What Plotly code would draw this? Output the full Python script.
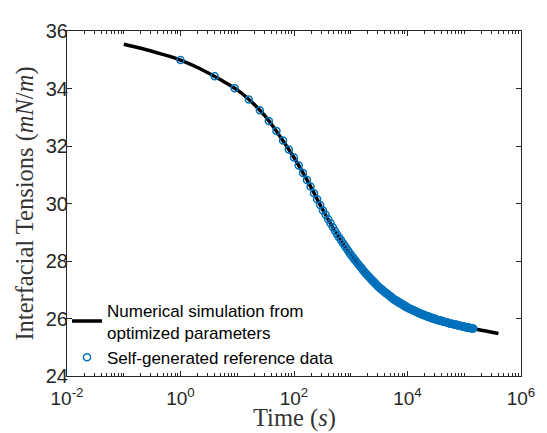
import plotly.graph_objects as go

# Numerical simulation curve (time in s, tension in mN/m)
sim_t = [0.1, 0.2, 0.5, 1, 2, 5, 10, 20, 30, 50, 100, 200, 300, 500, 1000, 2000, 3000,
         5000, 10000, 20000, 50000, 100000, 200000, 400000]
sim_y = [35.54, 35.40, 35.18, 34.99, 34.73, 34.31, 33.95, 33.44, 33.07, 32.49, 31.60,
         30.56, 29.89, 29.12, 28.22, 27.49, 27.12, 26.76, 26.38, 26.11, 25.86, 25.71,
         25.59, 25.48]

# Self-generated reference data
ref_t = [1, 4, 9, 16, 25, 36, 49, 64, 81, 100, 121, 144, 169, 196, 225, 256, 289, 324,
         361, 400, 441, 484, 529, 576, 625, 676, 729, 784, 841, 900, 961, 1024, 1089,
         1156, 1225, 1296, 1369, 1444, 1521, 1600, 1681, 1764, 1849, 1936, 2025, 2116,
         2209, 2304, 2401, 2500, 2704, 2916, 3136, 3364, 3600, 3844, 4096, 4356, 4624,
         4900, 5184, 5476, 5776, 6084, 6400, 6724, 7056, 7396, 7744, 8100, 8464, 8836,
         9216, 10000, 10816, 11664, 12544, 13456, 14400, 15376, 16384, 17424, 18496,
         19600, 20736, 21904, 23104, 24336, 25600, 26896, 28224, 29584, 30976, 32400,
         36100, 40000, 44100, 48400, 52900, 57600, 62500, 67600, 72900, 78400, 84100,
         90000, 96100, 102400, 108900, 115600, 122500, 129600, 136900, 144400]
ref_y = [34.99, 34.43, 34.01, 33.62, 33.24, 32.87, 32.52, 32.19, 31.88, 31.60, 31.32,
         31.06, 30.82, 30.59, 30.36, 30.15, 29.95, 29.76, 29.61, 29.45, 29.31, 29.17,
         29.04, 28.92, 28.82, 28.72, 28.62, 28.53, 28.44, 28.36, 28.27, 28.20, 28.13,
         28.06, 28.00, 27.94, 27.88, 27.82, 27.77, 27.71, 27.66, 27.61, 27.56, 27.52,
         27.48, 27.44, 27.40, 27.36, 27.33, 27.29, 27.22, 27.15, 27.09, 27.04, 26.99,
         26.94, 26.90, 26.86, 26.82, 26.78, 26.74, 26.70, 26.67, 26.64, 26.61, 26.59,
         26.56, 26.54, 26.51, 26.49, 26.47, 26.44, 26.42, 26.38, 26.35, 26.32, 26.29,
         26.26, 26.23, 26.21, 26.18, 26.16, 26.14, 26.12, 26.10, 26.08, 26.07, 26.05,
         26.03, 26.02, 26.00, 25.99, 25.98, 25.96, 25.94, 25.91, 25.89, 25.87, 25.84,
         25.82, 25.81, 25.79, 25.78, 25.76, 25.75, 25.73, 25.72, 25.71, 25.70, 25.69,
         25.68, 25.67, 25.66, 25.65]

# further reference samples in the dense part of the record
ref_t_dense = [2601, 2809, 3025, 3249, 3481, 3721, 3969, 4225, 4489, 4761, 5041, 5329,
               5625, 5929, 6241, 6561, 6889, 7225, 7569, 7921, 8281, 8649, 9025, 9409,
               9604, 9801, 10404, 11236, 12100, 12996, 13924, 14884, 15876, 16900, 17956,
               19044, 20164, 21316, 22500, 23716, 24964, 26244, 27556, 28900, 30276,
               31684, 33856, 35344, 37636, 38416, 42025, 46225, 50625, 55225, 60025,
               65025, 70225, 75625, 81225, 87025, 93025, 99225, 105625, 112225, 119025,
               126025, 133225, 140625]
ref_y_dense = [27.26, 27.19, 27.12, 27.06, 27.01, 26.97, 26.92, 26.88, 26.84, 26.80,
               26.76, 26.72, 26.68, 26.65, 26.63, 26.60, 26.57, 26.55, 26.53, 26.50,
               26.48, 26.46, 26.43, 26.41, 26.40, 26.39, 26.36, 26.33, 26.30, 26.28,
               26.25, 26.22, 26.19, 26.17, 26.15, 26.13, 26.11, 26.09, 26.08, 26.06,
               26.04, 26.03, 26.01, 26.00, 25.98, 25.97, 25.95, 25.94, 25.93, 25.93,
               25.90, 25.88, 25.86, 25.83, 25.82, 25.80, 25.78, 25.77, 25.75, 25.74,
               25.73, 25.71, 25.70, 25.69, 25.68, 25.67, 25.66, 25.65]

x_tickvals = [1e-2, 1e0, 1e2, 1e4, 1e6]
x_ticktext = ["10<sup>-2</sup>", "10<sup>0</sup>", "10<sup>2</sup>", "10<sup>4</sup>", "10<sup>6</sup>"]
y_tickvals = [24, 26, 28, 30, 32, 34, 36]

minor_vals = [m * 10 ** k for k in range(-2, 6) for m in range(2, 11)]
minor_vals = [v for v in minor_vals if min(abs(v / tv - 1) for tv in x_tickvals) > 1e-6]

axis_col = "#262626"
title_font = dict(family="Liberation Serif, Times New Roman, serif", size=24.5, color="#333333")

fig = go.Figure()
fig.add_trace(go.Scatter(
    x=sim_t, y=sim_y, mode="lines", line=dict(color="black", width=3.5, shape="spline"),
    name="Numerical simulation from<br>optimized parameters"))
fig.add_trace(go.Scatter(
    x=ref_t + ref_t_dense, y=ref_y + ref_y_dense, mode="markers",
    marker=dict(symbol="circle-open", size=7, color="#0072BD", line=dict(width=1.5, color="#0072BD")),
    name="Self-generated reference data"))

# page body has an 8px margin: figure sized so the plot area sits at x 67-532, y 22-376
fig.update_layout(
    width=539, height=425,
    margin=dict(l=59, r=15, t=14, b=57),
    paper_bgcolor="white", plot_bgcolor="white",
    font=dict(family="Liberation Sans, Arial, sans-serif", color=axis_col),
    showlegend=True,
    legend=dict(x=0.0, y=0.242, xanchor="left", yanchor="top",
                bgcolor="rgba(0,0,0,0)", borderwidth=0,
                font=dict(size=17, color="black", family="Liberation Sans, Arial, sans-serif"),
                tracegroupgap=0, itemsizing="trace"),
    xaxis=dict(type="log", range=[-2, 6], showgrid=False, zeroline=False,
               showline=True, linecolor=axis_col, linewidth=1, mirror="ticks",
               ticks="inside", ticklen=5, tickcolor=axis_col,
               tickmode="array", tickvals=x_tickvals, ticktext=x_ticktext,
               tickfont=dict(size=19, color=axis_col), ticklabelstandoff=5,
               minor=dict(tickmode="array", tickvals=minor_vals, ticks="inside",
                          ticklen=3, tickcolor=axis_col, showgrid=False)),
    yaxis=dict(range=[24, 36], showgrid=False, zeroline=False,
               showline=True, linecolor=axis_col, linewidth=1, mirror="ticks",
               ticks="inside", ticklen=5, tickcolor=axis_col,
               tickmode="array", tickvals=y_tickvals,
               tickfont=dict(size=20, color=axis_col), ticklabelstandoff=-6),
    annotations=[
        dict(text="Interfacial Tensions (<i>mN</i>/<i>m</i>)", xref="paper", yref="paper",
             x=-0.0946, y=0.5, textangle=-90, showarrow=False, xanchor="center", yanchor="middle",
             font=title_font),
        dict(text="Time (<i>s</i>)", xref="paper", yref="paper",
             x=0.5, y=-0.122, showarrow=False, xanchor="center", yanchor="middle",
             font=title_font),
    ],
)

fig.write_html("out.html")
